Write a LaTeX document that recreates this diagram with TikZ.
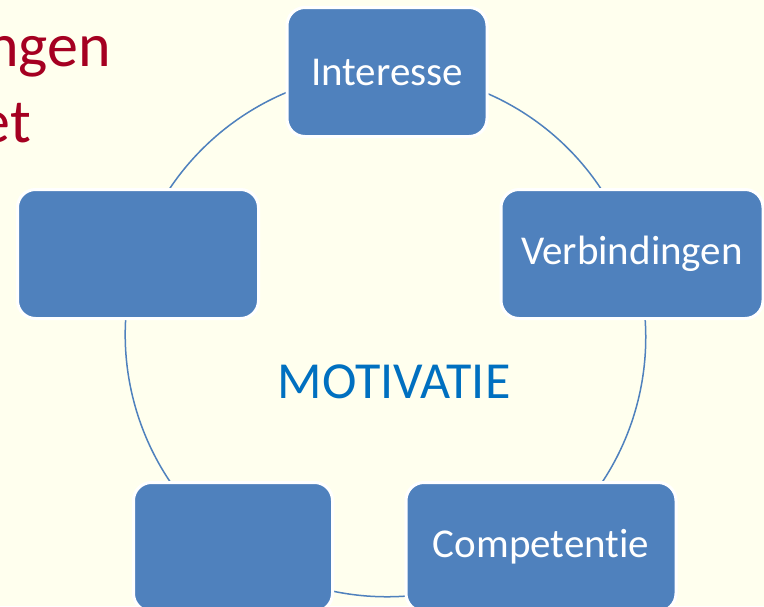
\documentclass[tikz,border=0pt]{standalone}
\usepackage{fontspec}
\setmainfont{Carlito}[Ligatures={NoCommon,NoContextual}]
\usetikzlibrary{positioning,backgrounds}
\definecolor{bgcream}{RGB}{255,255,238}
\definecolor{boxblue}{RGB}{79,129,189}
\definecolor{titlered}{RGB}{165,0,33}
\definecolor{motivblue}{RGB}{0,112,192}
\tikzset{
box/.style = {draw=white, line width=3pt, fill=boxblue, rectangle, rounded corners=18pt,
  minimum height=129pt, text=white, font=\fontsize{41}{49}\selectfont, inner sep=0pt},
ring/.style = {draw=boxblue, line width=1.5pt},
redtext/.style = {text=titlered, font=\fontsize{62}{74}\selectfont, inner sep=0pt, anchor=base east}
}

\begin{document}
\begin{tikzpicture}[x=1pt, y=-1pt]
		\path[use as bounding box] (0,0) rectangle (764,606);
		\clip (0,0) rectangle (764,606);

		% cut-off title text on the left
		\node [redtext] (title1) at (111,66) {ngen};
		\node [redtext] (title2) at (31,142) {et};

		% the five boxes of the cycle
		\node [box, minimum width=200pt] (interesse) at (387,72) {Interesse};
		\node [box, minimum width=262pt] (verbind) at (632,254) {Verbindingen};
		\node [box, minimum width=270pt] (compet) at (541,547) {Competent\kern0pt ie};
		\node [box, minimum width=199pt] (blankb) at (233,547) {};
		\node [box, minimum width=241pt] (blanka) at (138,254) {};

		\node [text=motivblue, font=\fontsize{52}{62}\selectfont] (motiv) at (394,382) {MOTIVATIE};

		\begin{scope}[on background layer]
			\fill [bgcream] (0,0) rectangle (764,606);
			\draw [ring] (interesse.center) to [bend left=36, looseness=0.94] (verbind.center);
			\draw [ring] (verbind.center) to [bend left=36, looseness=0.94] (compet.center);
			\draw [ring] (compet.center) to [bend left=36, looseness=0.94] (blankb.center);
			\draw [ring] (blankb.center) to [bend left=36, looseness=0.94] (blanka.center);
			\draw [ring] (blanka.center) to [bend left=36, looseness=0.94] (interesse.center);
		\end{scope}
\end{tikzpicture}
\end{document}
